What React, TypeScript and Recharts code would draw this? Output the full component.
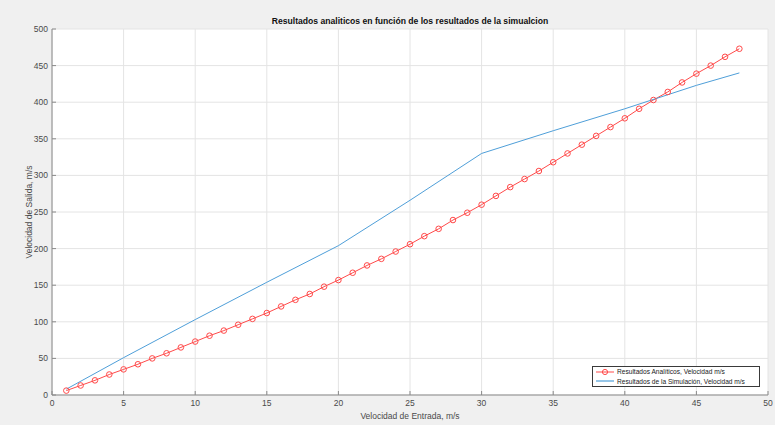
import { LineChart, Line, XAxis, YAxis, CartesianGrid, Label } from "recharts";

const entrada = [
  1, 2, 3, 4, 5, 6, 7, 8, 9, 10, 11, 12, 13, 14, 15, 16, 17, 18, 19, 20, 21, 22, 23, 24,
  25, 26, 27, 28, 29, 30, 31, 32, 33, 34, 35, 36, 37, 38, 39, 40, 41, 42, 43, 44, 45, 46, 47, 48,
];
const analiticos = [
  6, 13, 20, 28, 35, 42, 50, 57, 65, 73, 81, 88, 96, 104, 112, 121, 130, 138, 148, 157, 167, 177, 186, 196,
  206, 217, 227, 239, 249, 260, 272, 284, 295, 306, 318, 330, 342, 354, 366, 378, 391, 403, 414, 427, 439, 450, 462, 473,
];
const entradaSim = [1, 5, 10, 15, 20, 25, 30, 35, 40, 45, 48];
const simulacion = [8, 51, 103, 154, 204, 266, 330, 361, 391, 423, 440];

const xTicks = [0, 5, 10, 15, 20, 25, 30, 35, 40, 45, 50];
const yTicks = [0, 50, 100, 150, 200, 250, 300, 350, 400, 450, 500];

const TITLE = "Resultados analiticos en función de los resultados de la simualcion";
const LEG_ANA = "Resultados Analíticos, Velocidad m/s";
const LEG_SIM = "Resultados de la Simulación, Velocidad m/s";

const RED = "#ff4a4a";
const BLUE = "#4f9fd9";
const AXIS = "#8a8a8a";
const TXT = "#4a4a4a";
const FONT = "'Liberation Sans', Arial, sans-serif";

const dataAna = entrada.map((x, i) => ({ x, v: analiticos[i] }));
const dataSim = entradaSim.map((x, i) => ({ x, v: simulacion[i] }));

const tick = { fill: TXT, fontSize: 8.5, fontFamily: FONT };

export default function App() {
  return (
    <div style={{ position: "fixed", left: 0, top: 0, width: 775, height: 425, background: "#f0f0f0", fontFamily: FONT }}>
      <div
        style={{
          position: "absolute", left: 52, width: 716, top: 15, textAlign: "center",
          fontSize: 8.6, fontWeight: "bold", color: "#111", lineHeight: "12px",
        }}
      >
        {TITLE}
      </div>
      <LineChart width={775} height={425} margin={{ top: 29, right: 7, bottom: 0, left: 0 }}>
        <CartesianGrid fill="#ffffff" stroke="#e4e4e4" strokeWidth={1} />
        <XAxis
          type="number" dataKey="x" domain={[0, 50]} ticks={xTicks} allowDataOverflow
          height={30} stroke={AXIS} tickSize={-4} tickMargin={9} tick={tick} interval={0}
        >
          <Label value="Velocidad de Entrada, m/s" position="insideBottom" offset={6} style={{ fill: TXT, fontSize: 8.5, fontFamily: FONT }} />
        </XAxis>
        <XAxis
          xAxisId="top" orientation="top" type="number" dataKey="x" domain={[0, 50]} ticks={xTicks}
          allowDataOverflow height={0} stroke={AXIS} tickSize={-4} tick={false}
        />
        <YAxis
          type="number" dataKey="v" domain={[0, 500]} ticks={yTicks} allowDataOverflow
          width={52} stroke={AXIS} tickSize={-4} tickMargin={8} tick={tick} interval={0}
        >
          <Label
            value="Velocidad de Salida, m/s" angle={-90} position="insideLeft" offset={29}
            style={{ fill: TXT, fontSize: 8.5, fontFamily: FONT, textAnchor: "middle" }}
          />
        </YAxis>
        <YAxis
          yAxisId="right" orientation="right" type="number" dataKey="v" domain={[0, 500]} ticks={yTicks}
          allowDataOverflow width={0} stroke={AXIS} tickSize={-4} tick={false}
        />
        <Line
          data={dataAna} dataKey="v" type="linear" stroke={RED} strokeWidth={1}
          dot={{ r: 2.8, stroke: RED, strokeWidth: 1, fill: "none" }} isAnimationActive={false}
        />
        <Line
          data={dataSim} dataKey="v" type="linear" stroke={BLUE} strokeWidth={1}
          dot={false} isAnimationActive={false}
        />
      </LineChart>
      <div
        style={{
          position: "absolute", left: 592, top: 366, width: 168, height: 21,
          background: "#fff", border: "1px solid #3a3a3a", boxSizing: "border-box",
          fontSize: 6.6, color: "#222", lineHeight: "9.5px", padding: "0 0 0 3px",
        }}
      >
        <div style={{ display: "flex", alignItems: "center", height: 9.5 }}>
          <svg width={18} height={8} style={{ marginRight: 3 }}>
            <line x1={0} y1={4} x2={18} y2={4} stroke={RED} strokeWidth={1} />
            <circle cx={9} cy={4} r={2.6} stroke={RED} strokeWidth={1} fill="none" />
          </svg>
          <span>{LEG_ANA}</span>
        </div>
        <div style={{ display: "flex", alignItems: "center", height: 9.5 }}>
          <svg width={18} height={8} style={{ marginRight: 3 }}>
            <line x1={0} y1={4} x2={18} y2={4} stroke={BLUE} strokeWidth={1.2} />
          </svg>
          <span>{LEG_SIM}</span>
        </div>
      </div>
    </div>
  );
}
